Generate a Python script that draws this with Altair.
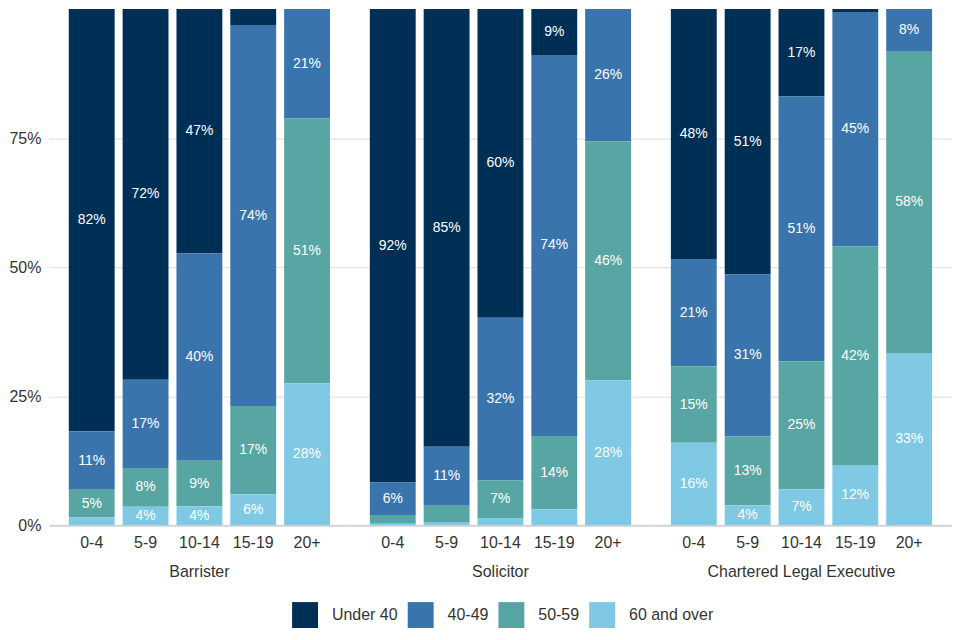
import altair as alt
import pandas as pd

professions = ["Barrister", "Solicitor", "Chartered Legal Executive"]
years = ["0-4", "5-9", "10-14", "15-19", "20+"]
bands = ["Under 40", "40-49", "50-59", "60 and over"]
colors = ["#002f56", "#3974ad", "#58a6a3", "#80c9e4"]

barrister = {
    "Under 40":    [81.8, 71.8, 47.3, 3.1, 0.0],
    "40-49":       [11.3, 17.1, 40.2, 73.8, 21.2],
    "50-59":       [5.4, 7.5, 8.8, 17.1, 51.3],
    "60 and over": [1.5, 3.6, 3.7, 6.0, 27.5],
}
solicitor = {
    "Under 40":    [91.7, 84.8, 59.8, 8.9, 0.0],
    "40-49":       [6.3, 11.4, 31.5, 73.8, 25.6],
    "50-59":       [1.7, 3.3, 7.3, 14.2, 46.3],
    "60 and over": [0.3, 0.5, 1.4, 3.1, 28.1],
}
cle = {
    "Under 40":    [48.4, 51.4, 16.9, 0.6, 0.0],
    "40-49":       [20.8, 31.4, 51.3, 45.4, 8.3],
    "50-59":       [14.8, 13.3, 24.8, 42.3, 58.3],
    "60 and over": [16.0, 3.9, 7.0, 11.7, 33.4],
}

rows = []
for prof, table in zip(professions, [barrister, solicitor, cle]):
    for bi, band in enumerate(bands):
        for yi, yr in enumerate(years):
            rows.append({"profession": prof, "years": yr, "band": band,
                         "idx": bi, "value": table[band][yi]})
df = pd.DataFrame(rows)

H = 518
W = 302

base = alt.Chart(df).transform_stack(
    stack="value",
    groupby=["profession", "years"],
    as_=["y0", "y1"],
    sort=[alt.SortField("idx", order="descending")],
).transform_calculate(mid="(datum.y0 + datum.y1) / 2")

xenc = alt.X(
    "years:N", sort=years, title=None,
    scale=alt.Scale(paddingInner=0.148, paddingOuter=0.37),
    axis=alt.Axis(labelAngle=0, labelFontSize=16, labelColor="#333333",
                  labelPadding=9, ticks=False, domainColor="#cccccc",
                  domainWidth=2, grid=False),
)

bars = base.mark_bar().encode(
    x=xenc,
    y=alt.Y("y0:Q", title=None,
            scale=alt.Scale(domain=[0, 100], nice=False, zero=True),
            axis=alt.Axis(values=[0, 25, 50, 75], labelExpr="datum.value + '%'",
                          labelFontSize=16, labelColor="#333333", labelPadding=8,
                          ticks=False, domain=False, grid=True,
                          gridColor="#dddddd", gridWidth=1)),
    y2="y1:Q",
    color=alt.Color("band:N", scale=alt.Scale(domain=bands, range=colors),
                    legend=alt.Legend(title=None, orient="none", direction="horizontal",
                                      legendX=244, legendY=595,
                                      symbolType="square", symbolSize=676,
                                      symbolStrokeWidth=0, symbolOpacity=1,
                                      labelFontSize=16, labelColor="#333333",
                                      labelOffset=14, columnPadding=10)),
)

labels = base.transform_filter("datum.value >= 3.5").transform_calculate(
    lab="format(round(datum.value), 'd') + '%'"
).mark_text(color="white", fontSize=14, baseline="middle", align="center").encode(
    x=alt.X("years:N", sort=years),
    y=alt.Y("mid:Q"),
    text="lab:N",
)

chart = alt.layer(bars, labels).properties(width=W, height=H).facet(
    column=alt.Column("profession:N", sort=professions,
                      header=alt.Header(title=None, labelOrient="bottom",
                                        labelFontSize=16, labelColor="#333333",
                                        labelPadding=14)),
    spacing=0,
).configure(font="Liberation Sans", padding=0).configure_view(stroke=None)

chart.save("out.html", embed_options={"renderer": "svg", "actions": False})
